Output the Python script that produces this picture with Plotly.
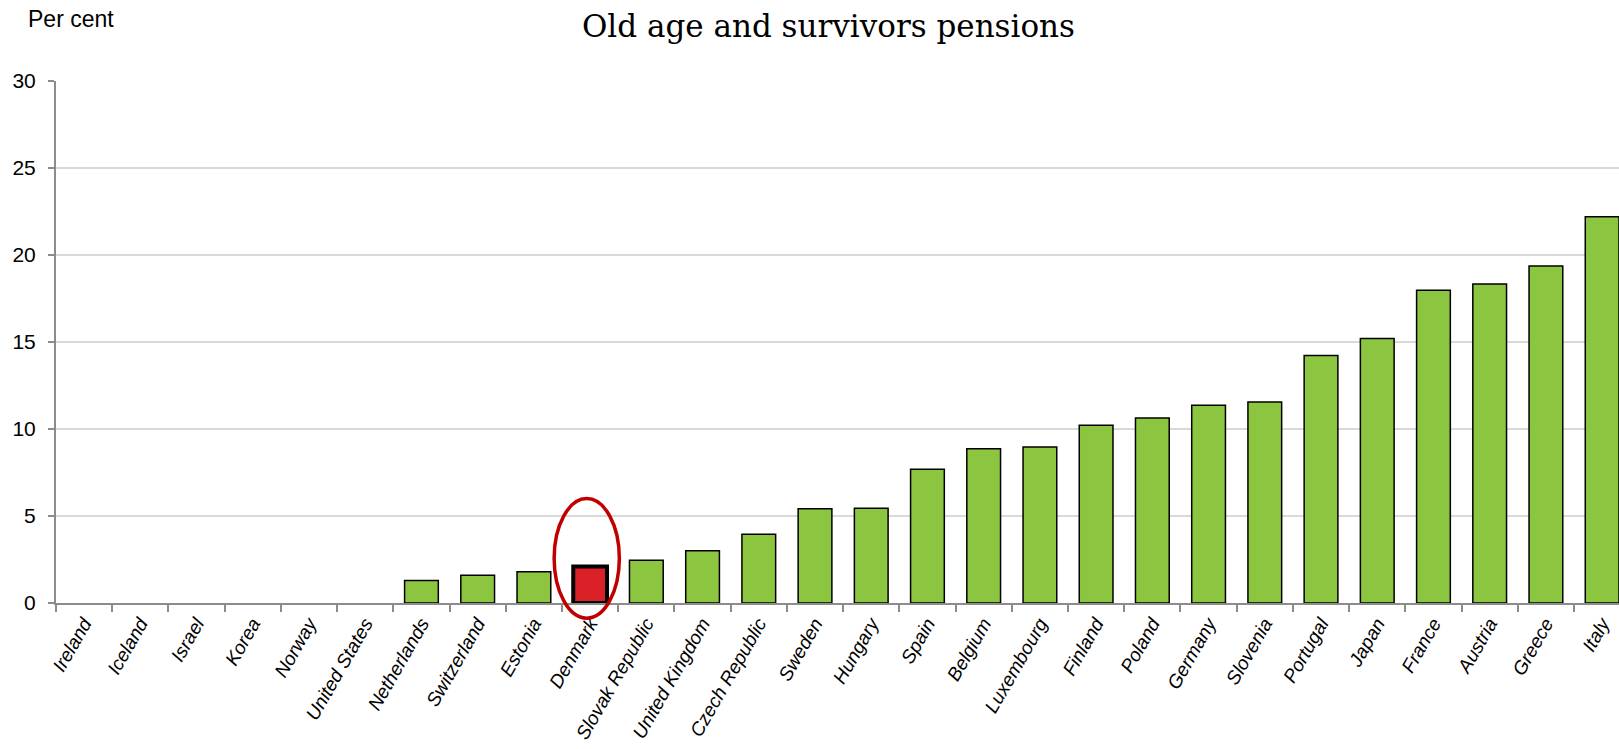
import plotly.graph_objects as go

# Public spending on old age and survivors pensions, per cent
countries = [
    "Ireland", "Iceland", "Israel", "Korea", "Norway", "United States",
    "Netherlands", "Switzerland", "Estonia", "Denmark", "Slovak Republic",
    "United Kingdom", "Czech Republic", "Sweden", "Hungary", "Spain",
    "Belgium", "Luxembourg", "Finland", "Poland", "Germany", "Slovenia",
    "Portugal", "Japan", "France", "Austria", "Greece", "Italy",
]
values = [
    0, 0, 0, 0, 0, 0,
    1.3, 1.6, 1.8, 2.1, 2.45,
    3.0, 3.95, 5.42, 5.45, 7.68,
    8.87, 8.97, 10.22, 10.63, 11.37, 11.55,
    14.22, 15.2, 17.98, 18.33, 19.37, 22.2,
]
highlight = "Denmark"
y_ticks = [0, 5, 10, 15, 20, 25, 30]

GREEN = "#8cc640"
RED = "#da2128"

fill = [RED if c == highlight else GREEN for c in countries]
# no outline on empty bars, heavy outline on the highlighted one
edge_w = [
    4 if c == highlight else (0 if v == 0 else 1.5)
    for c, v in zip(countries, values)
]

fig = go.Figure(
    go.Bar(
        x=countries,
        y=values,
        width=0.6,
        marker=dict(color=fill, line=dict(color="black", width=edge_w)),
        hoverinfo="x+y",
    )
)

# circle the highlighted country
hi = countries.index(highlight)
fig.add_shape(
    type="circle",
    xref="x", yref="paper",
    x0=hi - 0.64, x1=hi + 0.52,
    y0=-0.029, y1=0.2,
    line=dict(color="#c00000", width=3.5),
    layer="above",
)

fig.add_annotation(
    text="Per cent",
    xref="paper", yref="paper",
    x=-0.019, y=1.118,
    xanchor="left", yanchor="middle",
    showarrow=False,
    font=dict(family="Liberation Sans, Arial, sans-serif", size=23, color="black"),
)

fig.update_layout(
    width=1619,
    height=749,
    paper_bgcolor="white",
    plot_bgcolor="white",
    margin=dict(l=56, r=0, t=81, b=146, autoexpand=False),
    showlegend=False,
    bargap=0.4,
    title=dict(
        text="Old age and survivors pensions",
        xref="container", yref="container",
        x=0.5117, y=0.965,
        xanchor="center", yanchor="middle",
        font=dict(family="DejaVu Serif, serif", size=31, color="black"),
    ),
    xaxis=dict(
        type="category",
        range=[-0.5, 27.3],
        automargin=False,
        tickangle=-60,
        tickson="boundaries",
        ticks="outside",
        ticklen=7,
        tickwidth=1.5,
        tickcolor="#8c8c8c",
        showline=True,
        linecolor="#8c8c8c",
        linewidth=2,
        showgrid=False,
        tickfont=dict(family="Liberation Sans, Arial, sans-serif", size=19,
                      color="black", style="italic"),
    ),
    yaxis=dict(
        range=[0, 30],
        automargin=False,
        tickvals=y_ticks,
        ticks="outside",
        ticklen=6,
        tickwidth=1.5,
        tickcolor="#8c8c8c",
        showline=True,
        linecolor="#8c8c8c",
        linewidth=2,
        showgrid=True,
        gridcolor="#d9d9d9",
        gridwidth=1.5,
        zeroline=False,
        ticklabelstandoff=8,
        tickfont=dict(family="Liberation Sans Narrow, Liberation Sans, Arial, sans-serif", size=21, color="black"),
    ),
)

fig.write_html("out.html")
